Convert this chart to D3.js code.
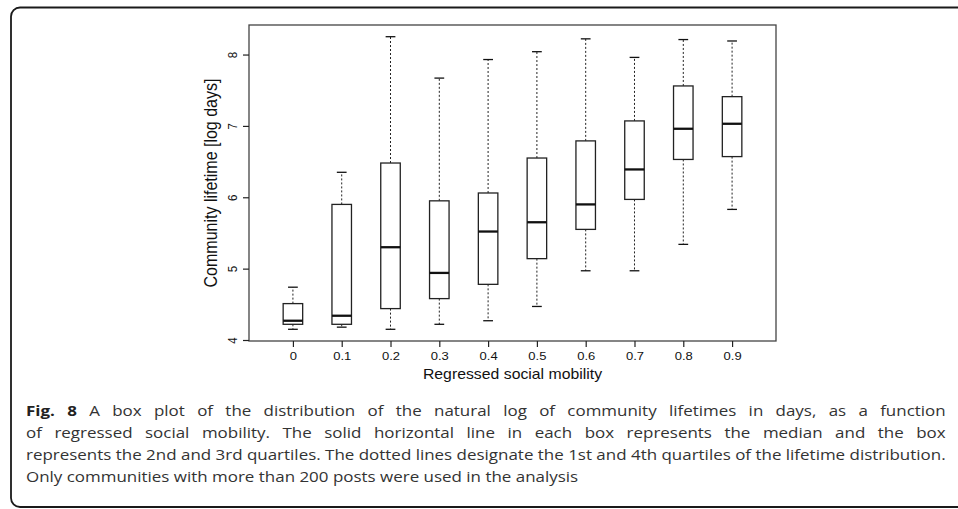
<!DOCTYPE html>
<html>
<head>
<meta charset="utf-8">
<script src="https://cdnjs.cloudflare.com/ajax/libs/d3/7.8.5/d3.min.js"></script>
<style>
  html, body { margin: 0; padding: 0; background: #fff; }
  svg { display: block; }
</style>
</head>
<body>
<div id="chart"></div>
<script>
// values (natural log of lifetime in days)
var mobility = ["0", "0.1", "0.2", "0.3", "0.4", "0.5", "0.6", "0.7", "0.8", "0.9"];
var lowerWhisker = [4.15, 4.18, 4.15, 4.22, 4.27, 4.47, 4.97, 4.97, 5.34, 5.83];
var lowerQuartile = [4.22, 4.22, 4.44, 4.58, 4.78, 5.14, 5.55, 5.97, 6.53, 6.57];
var medians = [4.27, 4.34, 5.30, 4.94, 5.52, 5.65, 5.90, 6.39, 6.96, 7.03];
var upperQuartile = [4.51, 5.90, 6.48, 5.95, 6.06, 6.55, 6.79, 7.07, 7.56, 7.41];
var upperWhisker = [4.74, 6.35, 8.25, 7.67, 7.93, 8.04, 8.22, 7.96, 8.21, 8.19];
var yTicks = [4, 5, 6, 7, 8];
var xTitle = "Regressed social mobility";
var yTitle = "Community lifetime [log days]";
var captionLines = [
  "A box plot of the distribution of the natural log of community lifetimes in days, as a function",
  "of regressed social mobility. The solid horizontal line in each box represents the median and the box",
  "represents the 2nd and 3rd quartiles. The dotted lines designate the 1st and 4th quartiles of the lifetime distribution.",
  "Only communities with more than 200 posts were used in the analysis"
];

function drawBoxplot(opts) {
    var width = opts.width, height = opts.height;
    var plot = opts.plot;
    var stretch = 1.13; // text in the figure is a little wider than tall

    var svg = d3.select(opts.container)
        .append("svg")
        .attr("width", width)
        .attr("height", height);

    // outer figure frame (runs off the right edge)
    svg.append("rect")
        .attr("x", 11).attr("y", 7.5)
        .attr("width", 1000).attr("height", 499.5)
        .attr("rx", 9).attr("ry", 9)
        .attr("fill", "none")
        .attr("stroke", "#1a1a1a")
        .attr("stroke-width", 1.8);

    var boxes = mobility.map(function (m, i) {
        return { key: m, lo: lowerWhisker[i], q1: lowerQuartile[i], med: medians[i], q3: upperQuartile[i], hi: upperWhisker[i] };
    });

    // R style range: data extent padded by 4%
    var lo = d3.min(lowerWhisker), hi = d3.max(upperWhisker);
    var pad = (hi - lo) * 0.04;
    var y = d3.scaleLinear().domain([lo - pad, hi + pad]).range([plot.bottom, plot.top]);
    var x = d3.scalePoint().domain(mobility).range([plot.left, plot.right]).padding(0.9);
    var boxW = x.step() * 0.4;

    var g = svg.append("g");

    // whiskers
    g.selectAll("line.whisk-up")
        .data(boxes).enter().append("line")
        .attr("class", "whisk-up")
        .attr("x1", function (d) { return x(d.key); })
        .attr("x2", function (d) { return x(d.key); })
        .attr("y1", function (d) { return y(d.q3); })
        .attr("y2", function (d) { return y(d.hi); })
        .attr("stroke", "#222").attr("stroke-width", 1)
        .attr("stroke-dasharray", "2,2");
    g.selectAll("line.whisk-down")
        .data(boxes).enter().append("line")
        .attr("class", "whisk-down")
        .attr("x1", function (d) { return x(d.key); })
        .attr("x2", function (d) { return x(d.key); })
        .attr("y1", function (d) { return y(d.q1); })
        .attr("y2", function (d) { return y(d.lo); })
        .attr("stroke", "#222").attr("stroke-width", 1)
        .attr("stroke-dasharray", "2,2");

    // staples
    ["lo", "hi"].forEach(function (k) {
        g.selectAll("line.cap-" + k)
            .data(boxes).enter().append("line")
            .attr("class", "cap-" + k)
            .attr("x1", function (d) { return x(d.key) - boxW / 4; })
            .attr("x2", function (d) { return x(d.key) + boxW / 4; })
            .attr("y1", function (d) { return y(d[k]); })
            .attr("y2", function (d) { return y(d[k]); })
            .attr("stroke", "#111").attr("stroke-width", 1.3);
    });

    // boxes
    g.selectAll("rect.box")
        .data(boxes).enter().append("rect")
        .attr("class", "box")
        .attr("x", function (d) { return x(d.key) - boxW / 2; })
        .attr("width", boxW)
        .attr("y", function (d) { return y(d.q3); })
        .attr("height", function (d) { return y(d.q1) - y(d.q3); })
        .attr("fill", "#fff")
        .attr("stroke", "#222").attr("stroke-width", 1.3);

    // medians
    g.selectAll("line.med")
        .data(boxes).enter().append("line")
        .attr("class", "med")
        .attr("x1", function (d) { return x(d.key) - boxW / 2; })
        .attr("x2", function (d) { return x(d.key) + boxW / 2; })
        .attr("y1", function (d) { return y(d.med); })
        .attr("y2", function (d) { return y(d.med); })
        .attr("stroke", "#111").attr("stroke-width", 2.3);

    // plot frame
    svg.append("rect")
        .attr("x", plot.left).attr("y", plot.top)
        .attr("width", plot.right - plot.left)
        .attr("height", plot.bottom - plot.top)
        .attr("fill", "none")
        .attr("stroke", "#444").attr("stroke-width", 1.3);

    // axes
    var xAxis = svg.append("g")
        .attr("transform", "translate(0," + plot.bottom + ")")
        .call(d3.axisBottom(x).tickSize(6).tickSizeOuter(0));
    var yAxis = svg.append("g")
        .attr("transform", "translate(" + plot.left + ",0)")
        .call(d3.axisLeft(y).tickValues(yTicks).tickSize(6).tickSizeOuter(0).tickFormat(d3.format("d")));

    [xAxis, yAxis].forEach(function (ax) {
        ax.select(".domain").remove();
        ax.selectAll(".tick line").attr("stroke", "#222").attr("stroke-width", 1.2);
        ax.selectAll(".tick text")
            .attr("fill", "#111")
            .style("font-family", "'Liberation Sans', Arial, sans-serif")
            .style("font-size", "11.5px");
    });
    xAxis.selectAll(".tick text")
        .attr("y", null).attr("dy", null)
        .attr("transform", "translate(0,19) scale(" + stretch + ",1)");
    yAxis.selectAll(".tick text")
        .attr("x", null).attr("dy", null)
        .attr("text-anchor", "middle")
        .attr("transform", "translate(-12,0) rotate(-90) scale(1," + stretch + ")");

    // axis titles
    svg.append("text")
        .attr("transform", "translate(" + (plot.left + plot.right) / 2 + ",379) scale(" + stretch + ",1)")
        .attr("text-anchor", "middle")
        .style("font-family", "'Liberation Sans', Arial, sans-serif")
        .style("font-size", "14px")
        .attr("fill", "#111")
        .text(xTitle);
    svg.append("text")
        .attr("transform", "translate(217," + (plot.top + plot.bottom) / 2 + ") rotate(-90) scale(1," + stretch + ")")
        .attr("text-anchor", "middle")
        .style("font-family", "'Liberation Sans', Arial, sans-serif")
        .style("font-size", "16px")
        .attr("fill", "#111")
        .text(yTitle);

    // caption, justified like the journal layout
    var cap = opts.caption;
    var lines = svg.append("g")
        .style("font-family", "'Open Sans', 'Noto Sans', sans-serif")
        .style("font-size", cap.fontSize + "px")
        .attr("fill", "#333");
    var nodes = captionLines.map(function (txt, i) {
        var t = lines.append("text")
            .attr("transform", "translate(" + cap.left + "," + (cap.top + i * cap.lineHeight) + ")");
        if (i === 0) {
            t.append("tspan").style("font-weight", "bold").attr("fill", "#222").text("Fig. 8 ");
        }
        t.append("tspan").text(txt);
        return t;
    });
    var target = cap.right - cap.left;
    var sx = target / nodes[2].node().getComputedTextLength();
    nodes.forEach(function (t, i) {
        var natural = t.node().getComputedTextLength();
        t.attr("transform", "translate(" + cap.left + "," + (cap.top + i * cap.lineHeight) + ") scale(" + sx + ",1)");
        if (i < 2) {
            var spaces = (captionLines[i].match(/ /g) || []).length + (i === 0 ? 2 : 0);
            t.attr("word-spacing", (target / sx - natural) / spaces);
        }
    });
}

drawBoxplot({
    container: "#chart",
    width: 958,
    height: 509,
    plot: { left: 249, right: 776, top: 25, bottom: 341 },
    caption: { left: 26, right: 946, top: 416, lineHeight: 22, fontSize: 15 }
});
</script>
</body>
</html>
